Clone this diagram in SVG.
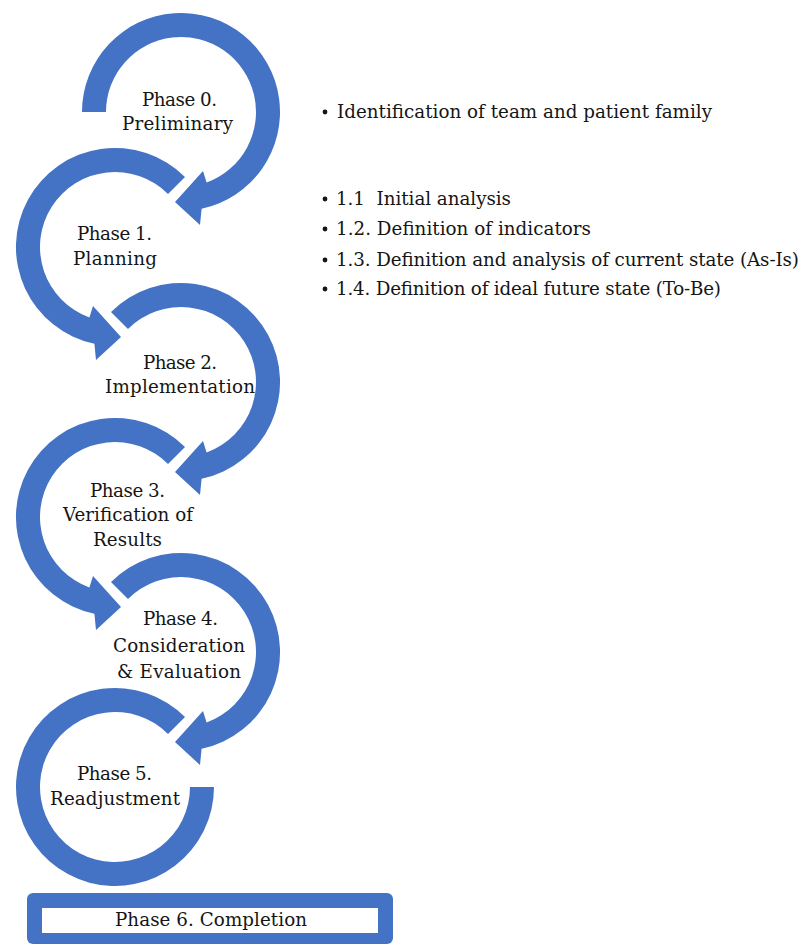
<svg xmlns="http://www.w3.org/2000/svg" xmlns:xlink="http://www.w3.org/1999/xlink" width="801" height="945" viewBox="0 0 801 945">
  <style>
    .ring { fill: #4472C4; }
    .t { font-family: "DejaVu Serif", "Liberation Serif", serif; font-size: 18.3px; fill: #151515; }
    .b { fill: #151515; }
  </style>
  <defs>
    <path id="arrowA" d="M -70.0 -70.0 A 99 99 0 1 1 20.6 96.8 L 19 113 L -6 90 L 22 59 L 25.6 70.5 A 75 75 0 1 0 -53.03 -53.03 Z"/>
    <path id="arrow0" d="M -99 0 A 99 99 0 1 1 20.6 96.8 L 19 113 L -6 90 L 22 59 L 25.6 70.5 A 75 75 0 1 0 -75 0 Z"/>
    <path id="ring5" d="M 99 0 A 99 99 0 1 1 70.0 -70.0 L 53.03 -53.03 A 75 75 0 1 0 75 0 Z"/>
  </defs>
  <rect width="801" height="945" fill="#ffffff"/>

  <g id="connectors"></g>

  <g id="phase0">
    <use xlink:href="#arrow0" href="#arrow0" class="ring" transform="translate(181,112)"/>
    <text class="t" x="142" y="106" textLength="75">Phase 0.</text>
    <text class="t" x="122" y="130" textLength="111">Preliminary</text>
  </g>
  <g id="phase1">
    <use xlink:href="#arrowA" href="#arrowA" class="ring" transform="translate(115,247) scale(-1,1)"/>
    <text class="t" x="77" y="240" textLength="75">Phase 1.</text>
    <text class="t" x="73" y="265" textLength="84">Planning</text>
  </g>
  <g id="phase2">
    <use xlink:href="#arrowA" href="#arrowA" class="ring" transform="translate(181,382)"/>
    <text class="t" x="143" y="369" textLength="74">Phase 2.</text>
    <text class="t" x="105" y="393" textLength="150">Implementation</text>
  </g>
  <g id="phase3">
    <use xlink:href="#arrowA" href="#arrowA" class="ring" transform="translate(115,517) scale(-1,1)"/>
    <text class="t" x="90" y="497" textLength="75">Phase 3.</text>
    <text class="t" x="63" y="521" textLength="130">Verification of</text>
    <text class="t" x="93" y="546" textLength="69">Results</text>
  </g>
  <g id="phase4">
    <use xlink:href="#arrowA" href="#arrowA" class="ring" transform="translate(181,652)"/>
    <text class="t" x="143" y="625" textLength="75">Phase 4.</text>
    <text class="t" x="113" y="652" textLength="132">Consideration</text>
    <text class="t" x="117" y="678" textLength="124">&amp; Evaluation</text>
  </g>
  <g id="phase5">
    <use xlink:href="#ring5" href="#ring5" class="ring" transform="translate(115,787)"/>
    <text class="t" x="77" y="780" textLength="75">Phase 5.</text>
    <text class="t" x="50" y="805" textLength="130">Readjustment</text>
  </g>
  <g id="phase6">
    <rect class="ring" x="27" y="893" width="366" height="51" rx="6"/>
    <rect x="42" y="908" width="336" height="25" fill="#ffffff"/>
    <text class="t" x="115" y="926" textLength="192">Phase 6. Completion</text>
  </g>

  <g id="notes0">
    <circle class="b" cx="325" cy="112" r="2.4"/>
    <text class="t" x="337" y="118" textLength="375">Identification of team and patient family</text>
  </g>
  <g id="notes1">
    <circle class="b" cx="325" cy="199" r="2.4"/>
    <text class="t" x="336" y="205" textLength="175" xml:space="preserve">1.1  Initial analysis</text>
    <circle class="b" cx="325" cy="229" r="2.4"/>
    <text class="t" x="336" y="235" textLength="255">1.2. Definition of indicators</text>
    <circle class="b" cx="325" cy="260" r="2.4"/>
    <text class="t" x="336" y="266" textLength="463">1.3. Definition and analysis of current state (As-Is)</text>
    <circle class="b" cx="325" cy="289" r="2.4"/>
    <text class="t" x="336" y="295" textLength="385">1.4. Definition of ideal future state (To-Be)</text>
  </g>
</svg>
